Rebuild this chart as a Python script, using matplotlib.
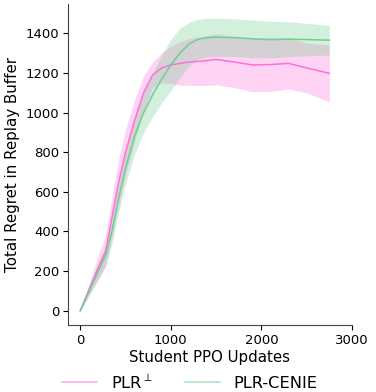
import numpy as np
import matplotlib.pyplot as plt

# Student PPO updates at which values were read
updates = [0, 100, 200, 280, 350, 420, 500, 600, 700, 800, 900, 1000, 1100,
           1200, 1300, 1400, 1500, 1700, 1900, 2100, 2300, 2500, 2750]

plr_mean = [0, 110, 220, 300, 470, 640, 800, 960, 1100, 1190, 1225, 1240, 1248,
            1255, 1258, 1262, 1268, 1255, 1240, 1242, 1248, 1225, 1198]
plr_std = [0, 30, 60, 80, 105, 115, 115, 105, 85, 65, 75, 95, 110,
           118, 122, 125, 128, 130, 135, 135, 130, 125, 145]

cenie_mean = [0, 100, 200, 280, 400, 560, 720, 880, 1000, 1090, 1170, 1240, 1300,
              1345, 1370, 1378, 1380, 1378, 1372, 1368, 1370, 1368, 1365]
cenie_std = [0, 20, 40, 50, 60, 70, 80, 90, 100, 110, 120, 130, 125,
             110, 100, 98, 97, 95, 95, 92, 88, 82, 75]

pink = '#ff6fd8'
green = '#6fcf8f'

fig = plt.figure(figsize=(3.76, 3.92), dpi=100)
ax = fig.add_axes([0.181, 0.171, 0.755, 0.819])

for mean, std, color, label in [(plr_mean, plr_std, pink, r'PLR$^{\perp}$'),
                                (cenie_mean, cenie_std, green, 'PLR-CENIE')]:
    m = np.array(mean)
    s = np.array(std)
    ax.plot(updates, m, color=color, linewidth=1.1, label=label)
    ax.fill_between(updates, m - s, m + s, color=color, alpha=0.3, linewidth=0)

ax.set_xlim(-135, 3000)
ax.set_ylim(-72, 1548)
ax.set_xticks([0, 1000, 2000, 3000])
ax.set_yticks([0, 200, 400, 600, 800, 1000, 1200, 1400])
ax.tick_params(labelsize=9.5, pad=3)
ax.set_xlabel('Student PPO Updates', fontsize=10.8, labelpad=2)
ax.set_ylabel('Total Regret in Replay Buffer', fontsize=10.8, labelpad=4)
ax.spines['top'].set_visible(False)
ax.spines['right'].set_visible(False)
for side in ['left', 'bottom']:
    ax.spines[side].set_color('#444444')

handles, labels = ax.get_legend_handles_labels()
leg = fig.legend(handles, labels, loc='center', bbox_to_anchor=(0.505, 0.026), ncol=2,
                 frameon=False, fontsize=11.7, handlelength=2.15,
                 handletextpad=0.85, columnspacing=2.0)
for line in leg.get_lines():
    line.set_alpha(0.6)

fig.savefig('out.png', dpi=100)
